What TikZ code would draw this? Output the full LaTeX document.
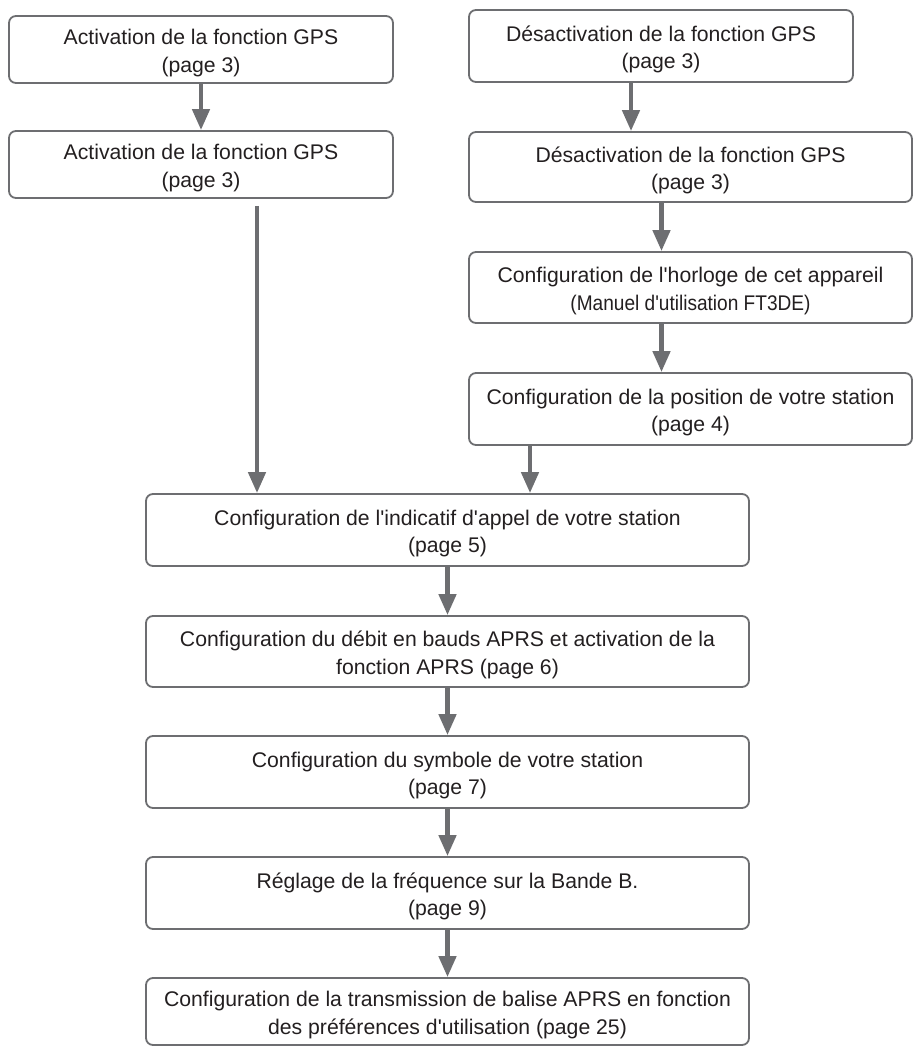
\documentclass[tikz,border=0pt]{standalone}
\usepackage{fontspec}
\usepackage{graphicx}
\newfontfamily\lib{Liberation Sans}
\usetikzlibrary{arrows.meta}
\definecolor{edgegray}{RGB}{109,110,113}
\definecolor{txt}{RGB}{35,31,32}
\newcommand\twol[2]{\raisebox{-3.5pt}[\height][\depth]{\begin{tabular}{@{}c@{}}#1\\#2\end{tabular}}}
\tikzset{
  stepbox/.style={draw=edgegray, line width=1.8pt, rounded corners=7pt, fill=white,
    inner sep=0pt, align=center, text=txt,
    font=\lib\fontsize{21.2pt}{27.5pt}\selectfont},
  arr/.style={draw=edgegray, line width=4.5pt, -{Triangle[length=21pt,width=17pt]}}
}
\begin{document}
\begin{tikzpicture}[x=1pt,y=-1pt]
\useasboundingbox (0,0) rectangle (913,1046);
% left column
\node[stepbox, minimum width=384pt, minimum height=67pt] (A1) at (201,49.5)
  {\twol{Activation de la fonction GPS}{(page 3)}};
\node[stepbox, minimum width=384pt, minimum height=67pt] (A2) at (201,164.5)
  {\twol{Activation de la fonction GPS}{(page 3)}};
% right column
\node[stepbox, minimum width=384pt, minimum height=72pt] (B1) at (661,46)
  {\twol{Désactivation de la fonction GPS}{(page 3)}};
\node[stepbox, minimum width=443pt, minimum height=70pt] (B2) at (690.5,167)
  {\twol{Désactivation de la fonction GPS}{(page 3)}};
\node[stepbox, minimum width=443pt, minimum height=71pt] (B3) at (690.5,287.5)
  {\twol{Configuration de l'horloge de cet appareil}{\scalebox{0.9}[1]{(Manuel d'utilisation FT3DE)}}};
\node[stepbox, minimum width=443pt, minimum height=72pt] (B4) at (690.5,409)
  {\twol{Configuration de la position de votre station}{(page 4)}};
% middle column
\node[stepbox, minimum width=603pt, minimum height=72pt] (M1) at (447.5,530)
  {\twol{Configuration de l'indicatif d'appel de votre station}{(page 5)}};
\node[stepbox, minimum width=603pt, minimum height=71pt] (M2) at (447.5,651.5)
  {\twol{Configuration du débit en bauds APRS et activation de la}{fonction APRS (page 6)}};
\node[stepbox, minimum width=603pt, minimum height=72pt] (M3) at (447.5,772)
  {\twol{Configuration du symbole de votre station}{(page 7)}};
\node[stepbox, minimum width=603pt, minimum height=72pt] (M4) at (447.5,893)
  {\twol{Réglage de la fréquence sur la Bande B.}{(page 9)}};
\node[stepbox, minimum width=603pt, minimum height=67pt] (M5) at (447.5,1011.5)
  {\twol{Configuration de la transmission de balise APRS en fonction}{des préférences d'utilisation (page 25)}};
% connectors
\draw[arr] (A1.south) -- (A2.north);
\draw[arr] ([xshift=-30pt]B1.south) -- ([xshift=-30pt]B1.south |- B2.north);
\draw[arr] ([xshift=-29pt]B2.south) -- ([xshift=-29pt]B3.north);
\draw[arr] ([xshift=-29pt]B3.south) -- ([xshift=-29pt]B4.north);
\draw[arr] ([xshift=56pt,yshift=-7pt]A2.south) -- ([xshift=56pt]A2.south |- M1.north);
\draw[arr] ([xshift=-160.5pt]B4.south) -- ([xshift=-160.5pt]B4.south |- M1.north);
\draw[arr] (M1.south) -- (M2.north);
\draw[arr] (M2.south) -- (M3.north);
\draw[arr] (M3.south) -- (M4.north);
\draw[arr] (M4.south) -- (M5.north);
\end{tikzpicture}
\end{document}
